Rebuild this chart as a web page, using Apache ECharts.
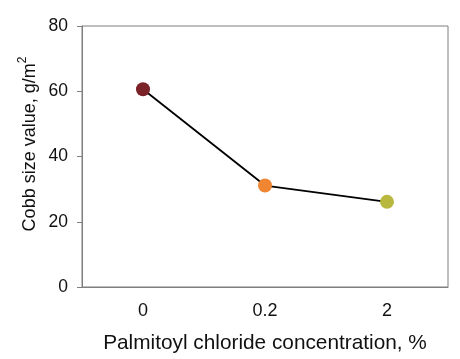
<!DOCTYPE html>
<html><head><meta charset="utf-8">
<script src="https://cdn.jsdelivr.net/npm/echarts@6/dist/echarts.min.js"></script>
<style>html,body{margin:0;padding:0;background:#fff}#c{width:460px;height:359px}</style>
</head><body><div id="c"></div>
<script>
var categories = ['0', '0.2', '2'];
var values = [60.6, 31.1, 26.1];
var pointColors = ['#7a2228', '#f08532', '#b8b83e'];
var yTicks = [0, 20, 40, 60, 80];

var chart = echarts.init(document.getElementById('c'), null, {renderer: 'canvas'});
var font = 'Liberation Sans, Arial, sans-serif';
chart.setOption({
  animation: false,
  grid: {left: 82, right: 12, top: 26, bottom: 69, show: true, borderColor: '#7f7f7f', borderWidth: 1},
  xAxis: {
    type: 'category', data: categories, boundaryGap: true,
    axisLine: {lineStyle: {color: '#7f7f7f', width: 1}},
    axisTick: {alignWithLabel: true, length: 4, lineStyle: {color: '#7f7f7f'}},
    axisLabel: {color: '#111', fontSize: 18, fontFamily: font, margin: 15},
    name: 'Palmitoyl chloride concentration, %', nameLocation: 'middle', nameGap: 46,
    nameTextStyle: {color: '#111', fontSize: 20.8, fontFamily: font}
  },
  yAxis: {
    type: 'value', min: yTicks[0], max: yTicks[yTicks.length - 1], interval: 20,
    splitLine: {show: false},
    axisLine: {show: true, lineStyle: {color: '#7f7f7f', width: 1}},
    axisTick: {show: true, length: 5, lineStyle: {color: '#7f7f7f'}},
    axisLabel: {color: '#111', fontSize: 17.5, fontFamily: font, margin: 14}
  },
  graphic: [{
    type: 'text', x: 28, y: 144, rotation: Math.PI / 2,
    style: {
      text: '{a|Cobb size value, g/m}{s|2}',
      align: 'center', verticalAlign: 'middle',
      rich: {
        a: {fontSize: 18, fontFamily: font, fill: '#111', verticalAlign: 'bottom'},
        s: {fontSize: 12, fontFamily: font, fill: '#111', verticalAlign: 'top', padding: [0, 0, 10, 0]}
      }
    }
  }],
  series: [{
    type: 'line', data: values.map(function (v, i) { return {value: v, itemStyle: {color: pointColors[i]}}; }),
    symbol: 'circle', symbolSize: 14,
    lineStyle: {color: '#000', width: 1.8},
    itemStyle: {borderWidth: 0}
  }]
});
</script></body></html>
